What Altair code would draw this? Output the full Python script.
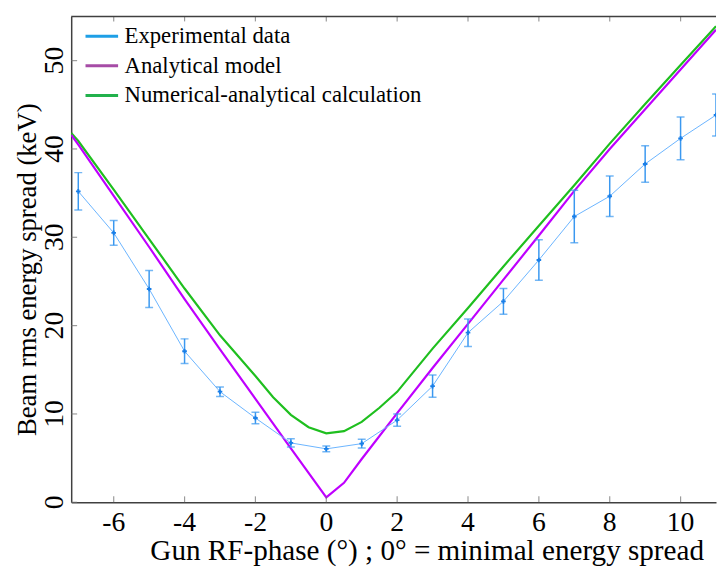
import altair as alt
import pandas as pd

FONT = "Liberation Serif"

# ---- data ----
exp_x = [-7, -6, -5, -4, -3, -2, -1, 0, 1, 2, 3, 4, 5, 6, 7, 8, 9, 10, 11]
exp_y = [35.2, 30.5, 24.15, 17.1, 12.52, 9.54, 6.72, 6.05, 6.64, 9.3, 13.15,
         19.2, 22.75, 27.43, 32.35, 34.65, 38.3, 41.2, 43.84]
exp_err = [2.12, 1.39, 2.1, 1.4, 0.54, 0.65, 0.46, 0.33, 0.5, 0.7, 1.26,
           1.56, 1.45, 2.29, 2.97, 2.3, 2.07, 2.43, 2.37]

ana_x = [-7.2, -7, -6, -5, -4, -3, -2, -1, 0, 0.5, 1, 2, 3, 4, 5, 6, 7, 8, 9, 10, 11]
ana_y = [41.6, 40.5, 34.7, 28.9, 23.0, 17.3, 11.7, 6.1, 0.55, 2.2, 4.9, 10.1,
         15.2, 20.2, 25.2, 30.2, 35.25, 40.0, 44.5, 49.0, 53.5]

num_x = [-7.2, -7, -6, -5, -4, -3, -2, -1.5, -1, -0.5, 0, 0.5, 1, 1.5, 2, 3, 4,
         5, 6, 7, 8, 9, 10, 11]
num_y = [41.8, 40.9, 35.4, 29.8, 24.2, 18.9, 14.3, 11.9, 9.9, 8.5, 7.8, 8.05,
         9.1, 10.7, 12.5, 17.4, 22.0, 26.7, 31.3, 35.9, 40.6, 45.1, 49.5, 53.9]

series_names = ["Experimental data", "Analytical model", "Numerical-analytical calculation"]
legend_colors = ["#1e9fe6", "#a64ca6", "#22b14c"]

x_ticks = [-6, -4, -2, 0, 2, 4, 6, 8, 10]
y_ticks = [0, 10, 20, 30, 40, 50]
x_tick_labels = ["-6", "-4", "-2", "0", "2", "4", "6", "8", "10"]
y_tick_labels = ["0", "10", "20", "30", "40", "50"]
x_domain = [-7.2, 11]
y_domain = [0, 55]

# ---- tables ----
exp_df = pd.DataFrame({"phase": exp_x, "spread": exp_y, "err": exp_err})
exp_df["lo"] = exp_df["spread"] - exp_df["err"]
exp_df["hi"] = exp_df["spread"] + exp_df["err"]
ana_df = pd.DataFrame({"phase": ana_x, "spread": ana_y})
num_df = pd.DataFrame({"phase": num_x, "spread": num_y})
bot_ticks = pd.DataFrame({"phase": x_ticks, "spread": [y_domain[0]] * len(x_ticks),
                          "label": x_tick_labels})
top_ticks = pd.DataFrame({"phase": x_ticks, "spread": [y_domain[1]] * len(x_ticks)})
left_ticks = pd.DataFrame({"phase": [x_domain[0]] * len(y_ticks), "spread": y_ticks,
                           "label": y_tick_labels})
top_line = pd.DataFrame({"phase": [x_domain[0]], "phase2": [x_domain[1]], "spread": [y_domain[1]]})
leg_df = pd.DataFrame({"series": series_names, "phase": [0, 0, 0], "spread": [0, 0, 0]})

xs = alt.Scale(domain=x_domain, nice=False, zero=False)
ys = alt.Scale(domain=y_domain, nice=False, zero=False)

x_axis = alt.Axis(values=x_ticks, ticks=False, grid=False, labels=False,
                  domainColor="#404040", domainWidth=1.5,
                  title="Gun RF-phase (°) ; 0° = minimal energy spread",
                  titleFont=FONT, titleFontSize=29.5, titleFontWeight="normal",
                  titleColor="black", titleX=360, titleY=58,
                  titleAlign="center", titleBaseline="alphabetic")
y_axis = alt.Axis(values=y_ticks, ticks=False, grid=False, labels=False,
                  domainColor="#404040", domainWidth=1.5,
                  title="Beam rms energy spread (keV)", titleFont=FONT,
                  titleFontSize=27, titleFontWeight="normal", titleColor="black",
                  titleAngle=270, titleX=-36, titleY=256, titleAlign="center",
                  titleBaseline="alphabetic")

X = alt.X("phase:Q", scale=xs, axis=x_axis)
Y = alt.Y("spread:Q", scale=ys, axis=y_axis)

num_line = alt.Chart(num_df).mark_line(color="#1fbf1f", strokeWidth=2.2, clip=True).encode(x=X, y=Y)
ana_line = alt.Chart(ana_df).mark_line(color="#bf00ff", strokeWidth=2.2, clip=True).encode(x=X, y=Y)
exp_line = alt.Chart(exp_df).mark_line(color="#6ab4ff", strokeWidth=1, clip=True).encode(x=X, y=Y)
err_rule = alt.Chart(exp_df).mark_rule(color="#3a98f0", strokeWidth=1.5, clip=True).encode(
    x=X, y=alt.Y("lo:Q", scale=ys, axis=y_axis), y2="hi:Q")
cap_lo = alt.Chart(exp_df).mark_tick(color="#3a98f0", orient="horizontal", size=8,
                                     thickness=1.5, clip=True).encode(
    x=X, y=alt.Y("lo:Q", scale=ys, axis=y_axis))
cap_hi = alt.Chart(exp_df).mark_tick(color="#3a98f0", orient="horizontal", size=8,
                                     thickness=1.5, clip=True).encode(
    x=X, y=alt.Y("hi:Q", scale=ys, axis=y_axis))
pts = alt.Chart(exp_df).mark_point(shape="cross", filled=True, size=22,
                                   color="#1a7fe8", opacity=1, clip=True).encode(x=X, y=Y)

tick_b = alt.Chart(bot_ticks).mark_tick(color="#707070", orient="vertical", size=6,
                                        thickness=1.2, yOffset=-3).encode(x=X, y=Y)
tick_t = alt.Chart(top_ticks).mark_tick(color="#707070", orient="vertical", size=5,
                                        thickness=1.2, yOffset=2.5).encode(x=X, y=Y)
tick_l = alt.Chart(left_ticks).mark_tick(color="#707070", orient="horizontal", size=6,
                                         thickness=1.2, xOffset=3).encode(x=X, y=Y)
top_rule = alt.Chart(top_line).mark_rule(color="#404040", strokeWidth=1.5).encode(
    x=X, x2="phase2:Q", y=Y)

# tick labels as text placed through the scales
lab_x = alt.Chart(bot_ticks).mark_text(font=FONT, fontSize=28, color="black",
                                       align="center", baseline="alphabetic",
                                       dy=29).encode(x=X, y=Y, text="label:N")
lab_y = alt.Chart(left_ticks).mark_text(font=FONT, fontSize=28, color="black",
                                        align="center", baseline="alphabetic",
                                        angle=270, dy=-8).encode(x=X, y=Y, text="label:N")

legend_layer = alt.Chart(leg_df).mark_line(opacity=0).encode(
    x=X, y=Y,
    color=alt.Color("series:N",
                    scale=alt.Scale(domain=series_names, range=legend_colors),
                    legend=alt.Legend(title=None, orient="none", legendX=13,
                                      legendY=2, symbolType="stroke",
                                      symbolSize=1089, symbolStrokeWidth=3,
                                      symbolOpacity=1, labelFont=FONT,
                                      labelFontSize=23,
                                      labelOffset=5, rowPadding=-5, padding=0,
                                      labelLimit=500)))

chart = alt.layer(
    num_line, ana_line, exp_line, err_rule, cap_lo, cap_hi, pts,
    tick_b, tick_t, tick_l, top_rule, lab_x, lab_y, legend_layer
).properties(
    width=653, height=492,
    autosize=alt.AutoSizeParams(type="pad"),
    padding={"left": 5, "top": 4, "right": 0, "bottom": 0},
).configure_view(stroke=None)

chart.save("out.html", embed_options={"renderer": "svg", "actions": False})
